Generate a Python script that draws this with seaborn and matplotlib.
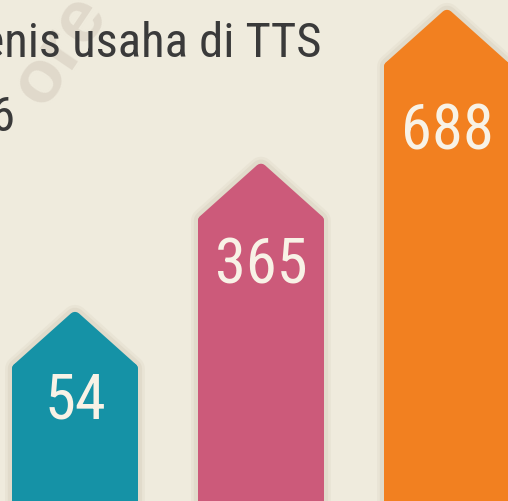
import matplotlib
matplotlib.use("Agg")
import matplotlib.pyplot as plt
from matplotlib.patches import Polygon
import pandas as pd
import seaborn as sns

categories = ["Jenis 1", "Jenis 2", "Jenis 3"]
values = [54, 365, 688]
colors = ["#1592a6", "#cc5a7a", "#f28020"]
title_lines = ["Jenis usaha di TTS", "2016"]
watermark = "ore"

BG = "#efebdd"
SHADOW = "#d8d1bf"
W, H = 508, 501
NARROW = ["Roboto Condensed", "Roboto"]

sns.set_theme(style="white")
fig = plt.figure(figsize=(W / 100, H / 100), dpi=100, facecolor=BG)
ax = fig.add_axes([0, 0, 1, 1])
ax.set_facecolor(BG)

df = pd.DataFrame({"jenis": categories, "jumlah": values})
sns.barplot(data=df, x="jenis", y="jumlah", hue="jenis", palette=colors,
            legend=False, width=0.677, saturation=1, ax=ax, zorder=3)

# the bars sit on a baseline well below zero (infographic style)
ax.set_xlim(-0.403, 2.328)
ax.set_ylim(-343, 708.6)
ax.axis("off")

sx = (2.328 + 0.403) / W      # data units per pixel, x
sy = (708.6 + 343) / H        # data units per pixel, y
head = 57 * sy                # height of the arrow head
r = 6                         # corner rounding, px
lw = 2 * r * 0.72             # stroke width in points
label_drop = [107, 120, 140]  # px from tip to number baseline

for i, (bar, v, c) in enumerate(zip(ax.patches, values, colors)):
    x0, w = bar.get_x(), bar.get_width()
    xc = x0 + w / 2
    bottom = -343 - 20
    shoulder = v - head
    # body: the seaborn bar, trimmed to end at the shoulder
    bar.set_x(x0 + r * sx)
    bar.set_width(w - 2 * r * sx)
    bar.set_y(bottom)
    bar.set_height(shoulder - bottom)
    bar.set_edgecolor(c)
    bar.set_linewidth(lw)
    bar.set_joinstyle("round")
    # arrow head
    tip = [(x0 + r * sx, shoulder - 4 * sy), (x0 + r * sx, shoulder),
           (xc, v - r * sy), (x0 + w - r * sx, shoulder),
           (x0 + w - r * sx, shoulder - 4 * sy)]
    ax.add_patch(Polygon(tip, closed=True, facecolor=c, edgecolor=c,
                         linewidth=lw, joinstyle="round", zorder=3))
    # soft shadow around the whole shape
    outline = [(x0 + r * sx, bottom), (x0 + r * sx, shoulder), (xc, v - r * sy),
               (x0 + w - r * sx, shoulder), (x0 + w - r * sx, bottom)]
    for extra, a in [(10, 0.25), (6, 0.45)]:
        ax.add_patch(Polygon(outline, closed=True, facecolor=SHADOW,
                             edgecolor=SHADOW, linewidth=lw + extra,
                             joinstyle="round", alpha=a, zorder=2))
    ax.annotate(str(v), xy=(xc, v), xytext=(0, -label_drop[i]),
                textcoords="offset pixels", ha="center", va="baseline",
                fontsize=45, color="#f8f2e6", family=NARROW, zorder=5)

# faint watermark
fig.text(60 / W, 1 - 50 / H, watermark, ha="center", va="center",
         rotation=56, fontsize=54, fontweight="bold", color="#e0d9cb",
         family="Liberation Sans", zorder=0)

# title, cropped at the left edge like the source
fig.text(322 / W, 1 - 57 / H, title_lines[0], ha="right", va="baseline",
         fontsize=35, color="#3a3a3a", family=NARROW, zorder=2)
fig.text(16 / W, 1 - 131 / H, title_lines[1], ha="right", va="baseline",
         fontsize=35, color="#3a3a3a", family=NARROW, zorder=2)

fig.savefig("out.png", dpi=100, facecolor=BG)
